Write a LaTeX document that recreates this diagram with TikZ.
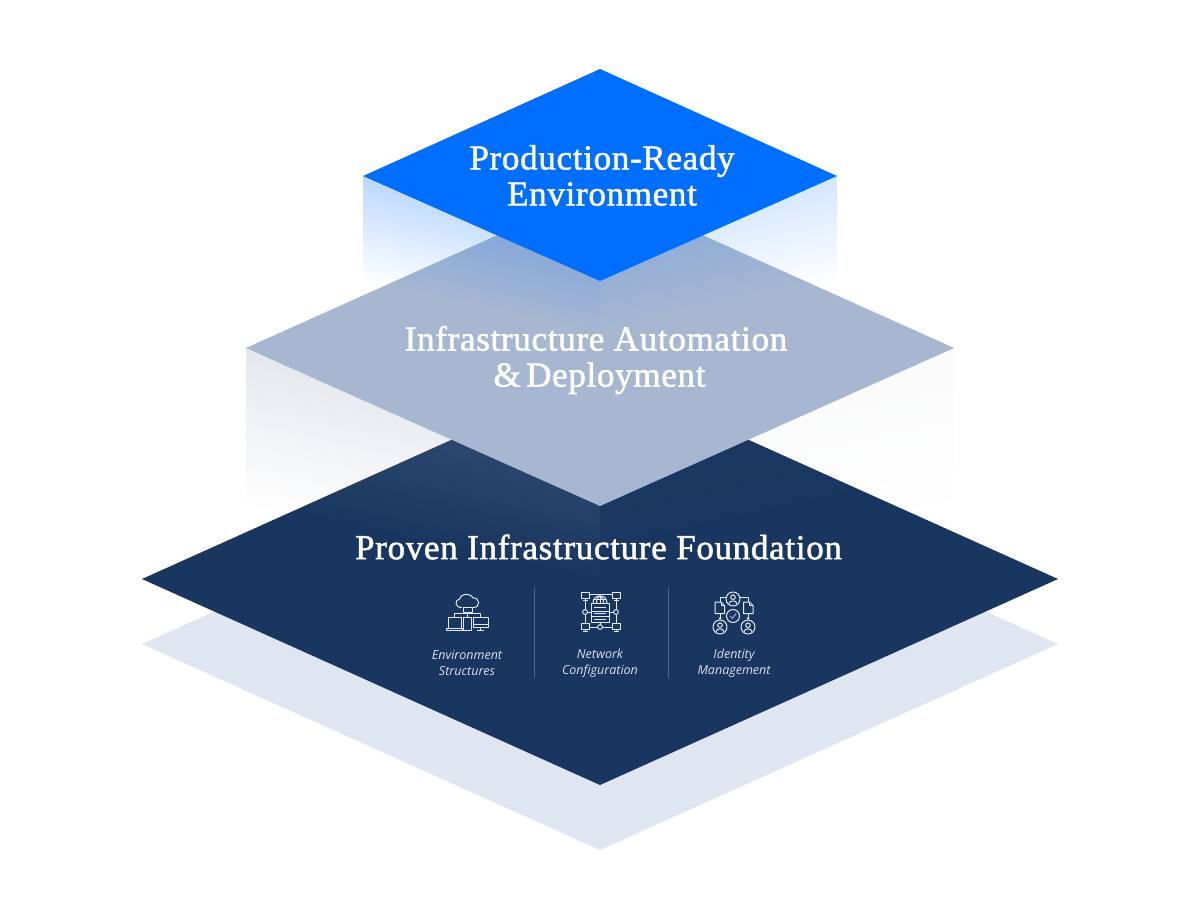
\documentclass[tikz,border=0pt]{standalone}
\usepackage{fontspec}
\setmainfont[LetterSpace=2,FakeBold=1.5]{Liberation Serif}
\newfontfamily\labelfont{Open Sans}
\usetikzlibrary{fadings}
\definecolor{topblue}{HTML}{006FFF}
\definecolor{midblue}{HTML}{A7B7D1}
\definecolor{navy}{HTML}{193660}
\definecolor{shadowblue}{HTML}{DFE5F1}
\definecolor{facegrey}{HTML}{8F9DB5}
\definecolor{sepline}{HTML}{4D6587}
\definecolor{iconline}{HTML}{E4E9F1}
\definecolor{labeltext}{HTML}{D9DFE9}
\tikzfading[name=fadeA, top color=transparent!73, bottom color=transparent!100]
\tikzfading[name=fadeB, top color=transparent!83, bottom color=transparent!100]
\tikzfading[name=fadeC, top color=transparent!76, bottom color=transparent!100]
\tikzfading[name=fadeD, top color=transparent!96, bottom color=transparent!100]
\tikzset{
  title/.style={text=white,font=\fontsize{35}{36}\selectfont,align=center,inner sep=0pt},
  smalllabel/.style={text=labeltext,font=\labelfont\itshape\fontsize{12.5}{16}\selectfont,align=center,inner sep=0pt},
  icon/.style={draw=iconline,line width=1pt,line join=round},
  sep/.style={draw=sepline,line width=0.9pt}
}
\begin{document}
\begin{tikzpicture}[x=1pt,y=-1pt]
\useasboundingbox (0,0) rectangle (1200,900);
\fill[white] (0,0) rectangle (1200,900);
% floor shadow and foundation
\fill[shadowblue] (600,438) -- (1058,644) -- (600,850) -- (142,644) -- cycle;
\fill[navy] (600,373) -- (1058,579) -- (600,785) -- (142,579) -- cycle;
% middle faces
\begin{scope}
\clip (246,348) -- (600,506) -- (600,664) -- (246,506) -- cycle;
\begin{scope}[transform canvas={cm={1,-0.2231,0,1,(0pt,54.9pt)}}]
\fill[facegrey,path fading=fadeC] (246,348) rectangle (600,506);
\end{scope}
\end{scope}
\begin{scope}
\clip (954,348) -- (600,506) -- (600,664) -- (954,506) -- cycle;
\begin{scope}[transform canvas={cm={1,0.2231,0,1,(0pt,-212.8pt)}}]
\fill[facegrey,path fading=fadeD] (600,348) rectangle (954,506);
\end{scope}
\end{scope}
\fill[midblue] (600,189) -- (954,348) -- (600,506) -- (246,348) -- cycle;
% top faces
\begin{scope}
\clip (363,176) -- (600,281) -- (600,387) -- (363,282) -- cycle;
\begin{scope}[transform canvas={cm={1,-0.2215,0,1,(0pt,80.4pt)}}]
\fill[topblue,path fading=fadeA] (363,176) rectangle (600,282);
\end{scope}
\end{scope}
\begin{scope}
\clip (837,176) -- (600,281) -- (600,387) -- (837,282) -- cycle;
\begin{scope}[transform canvas={cm={1,0.2215,0,1,(0pt,-185.4pt)}}]
\fill[topblue,path fading=fadeB] (600,176) rectangle (837,282);
\end{scope}
\end{scope}
\fill[topblue] (600,69) -- (837,176) -- (600,281) -- (363,176) -- cycle;
% titles
\node[title] (t1) at (602,175.5) {Production-Ready\\Environment};
\node[title] (t2) at (596,360) {Infrastructure Automation\\\hspace{7pt}\&\hspace{-4pt} Deployment};
\node[title] (t3) at (598.5,547) {Proven Infrastructure Foundation};
% separators
\draw[sep] (534.5,587) -- (534.5,678);
\draw[sep] (668,587) -- (668,678);
% labels
\node[smalllabel] (l1) at (467,663) {Environment\\Structures};
\node[smalllabel] (l2) at (600,663) {Network\\Configuration};
\node[smalllabel] (l3) at (734,663) {Identity\\Management};
% environment icon
\draw[icon] (462,607.5) .. controls (455,608) and (454,600) .. (459.5,599) .. controls (460,594) and (470,592) .. (473,598) .. controls (480,597) and (481,608) .. (473,607.5);
\draw[icon] (463,607.5) rectangle (472,612);
\draw[icon] (467.5,612) -- (467.5,617);
\draw[icon] (454.5,617) -- (454.5,613.5) -- (480.5,613.5) -- (480.5,617);
\draw[icon] (448,628) -- (448,617.5) -- (461,617.5) -- (461,628);
\draw[icon] (446,628) rectangle (462.5,630);
\draw[icon] (463.5,617.5) rectangle (471,630);
\draw[icon] (473,617) rectangle (488,627);
\draw[icon] (473,624) -- (488,624);
\draw[icon] (480.5,627) -- (480.5,630);
\draw[icon] (477,630) -- (484,630);
% network icon
\foreach \cx/\cy in {585/592,616/592,585/623,616/623}{
  \draw[icon] (\cx-4,\cy) rectangle (\cx+4,\cy+6);
  \draw[icon] (\cx,\cy+6) -- (\cx,\cy+8);
  \draw[icon] (\cx-2.5,\cy+8.5) -- (\cx+2.5,\cy+8.5);
}
\draw[icon] (589,594) -- (612,594);
\draw[icon] (585,600.5) -- (585,609.5);
\draw[icon] (585,614.5) -- (585,623);
\draw[icon] (616,600.5) -- (616,609.5);
\draw[icon] (616,614.5) -- (616,623);
\draw[icon] (585,612) circle (2.4);
\draw[icon] (616,612) circle (2.4);
\draw[icon] (587.4,612) -- (591,612);
\draw[icon] (613.6,612) -- (609,612);
\draw[icon] (589,627) -- (597.6,627);
\draw[icon] (602.4,627) -- (612,627);
\draw[icon] (600,627) circle (2.4);
\draw[icon] (600,622) -- (600,624.6);
\draw[icon] (591,603) rectangle (609,611);
\draw[icon] (591,611) rectangle (609,616.5);
\draw[icon] (591,616.5) rectangle (609,622);
\draw[icon] (594,607) -- (606,607);
\draw[icon] (594,613.7) -- (606,613.7);
\draw[icon] (594,619.2) -- (606,619.2);
\draw[icon] (593,603) .. controls (593,593.5) and (607,593.5) .. (607,603);
\draw[icon] (593.8,599.5) -- (606.2,599.5);
\draw[icon] (600,596) -- (600,603);
\draw[icon] (596.5,603) .. controls (596.5,599) and (598,597) .. (600,596) .. controls (602,597) and (603.5,599) .. (603.5,603);
% identity icon
\foreach \cx/\cy in {733/599,720/627,748/627}{
  \draw[icon] (\cx,\cy) circle (7);
  \draw[icon] (\cx,\cy-1.8) circle (2.3);
  \draw[icon] (\cx-4,\cy+4.6) .. controls (\cx-3.6,\cy+1) and (\cx+3.6,\cy+1) .. (\cx+4,\cy+4.6);
}
\draw[icon] (733,616) circle (6.5);
\draw[icon,draw=iconline!70!blue] (730,616) -- (732.3,618.3) -- (736.3,613.5);
\draw[icon] (726,597) -- (720,597) -- (720,602);
\draw[icon] (740,597) -- (748,597) -- (748,602);
\foreach \dx in {715,743.5}{
  \draw[icon] (\dx,602) -- (\dx+6,602) -- (\dx+9.5,605.5) -- (\dx+9.5,613.5) -- (\dx,613.5) -- cycle;
  \draw[icon] (\dx+6,602) -- (\dx+6,605.5) -- (\dx+9.5,605.5);
}
\draw[icon] (720,613.5) -- (720,619);
\draw[icon] (748,613.5) -- (748,619);
\fill[iconline] (718.3,617.5) -- (721.7,617.5) -- (720,620) -- cycle;
\fill[iconline] (746.3,617.5) -- (749.7,617.5) -- (748,620) -- cycle;
\end{tikzpicture}
\end{document}
